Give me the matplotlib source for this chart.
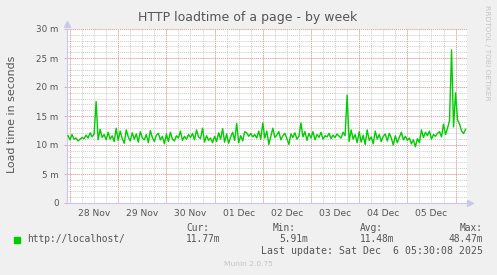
import numpy as np
import matplotlib.pyplot as plt
from matplotlib.ticker import FixedLocator

# hours relative to 28 Nov 00:00, hourly samples (load time in ms)
start_hour = -1
load_ms = [
    # 27 Nov 23:00 / 28 Nov
    11.6, 10.9, 11.8, 11.0, 11.2, 10.7, 11.0, 11.3, 11.1, 11.7, 11.2, 12.1, 11.4,
    11.9, 17.5, 10.9, 12.7, 11.3, 11.8, 10.9, 12.2, 11.0, 11.6, 10.6, 12.9,
    # 29 Nov
    10.8, 12.4, 11.1, 10.3, 12.6, 11.4, 10.7, 12.1, 11.0, 11.9, 10.5, 12.3,
    11.2, 10.9, 11.8, 10.4, 12.5, 11.3, 10.6, 11.7, 12.0, 10.9, 11.5, 10.2,
    # 30 Nov
    11.9, 10.6, 12.2, 11.0, 10.7, 11.6, 11.2, 12.4, 10.8, 11.5, 11.0, 11.8,
    11.3, 12.0, 10.9, 12.6, 11.4, 11.1, 12.9, 10.5, 11.6, 10.8, 11.2, 10.4,
    # 01 Dec
    11.5, 10.6, 12.1, 11.0, 12.8, 10.5, 11.9, 10.3, 11.4, 12.2, 10.8, 13.7,
    10.4, 11.6, 10.7, 12.3, 12.1, 11.5, 12.0, 11.4, 11.8, 11.2, 12.4, 11.0,
    # 02 Dec
    13.8, 11.2, 12.4, 10.1, 11.5, 12.9, 11.3, 11.7, 12.3, 10.9, 11.6, 12.0,
    11.1, 10.1, 11.9, 11.3, 12.1, 11.0, 11.5, 13.8, 11.4, 12.3, 10.8, 12.0,
    # 03 Dec
    11.2, 12.3, 10.9, 11.8, 11.3, 12.2, 11.0, 11.6, 11.4, 12.0, 11.1, 11.7,
    11.3, 11.9, 11.5, 11.2, 12.2, 11.6, 18.6, 10.6, 12.6, 11.0, 11.8, 10.4,
    # 04 Dec
    12.3, 10.5, 11.7, 10.1, 12.6, 10.8, 11.4, 10.2, 12.4, 11.0, 11.8, 10.6,
    11.5, 11.9, 10.7, 12.0, 11.2, 10.0, 11.6, 10.4, 11.3, 12.2, 10.9, 11.5,
    # 05 Dec / 06 Dec
    10.8, 11.2, 10.2, 10.9, 9.7, 11.1, 10.4, 12.6, 11.3, 12.2, 11.6, 12.4,
    11.0, 11.8, 11.5, 12.0, 12.3, 11.4, 13.6, 11.8, 12.9, 14.2, 26.4, 13.1,
    19.0, 14.3, 13.6, 12.4, 12.0, 12.7,
]
day_labels = ["28 Nov", "29 Nov", "30 Nov", "01 Dec", "02 Dec", "03 Dec", "04 Dec", "05 Dec"]
y_ticks = [0, 5, 10, 15, 20, 25, 30]
legend_name = "http://localhost/"
stats = [("Cur:", "11.77m"), ("Min:", "5.91m"), ("Avg:", "11.48m"), ("Max:", "48.47m")]
last_update = "Last update: Sat Dec  6 05:30:08 2025"

hours = start_hour + np.arange(len(load_ms))

W, H = 497, 275
BG = "#f0f0f0"
TXT = "#555555"
fig = plt.figure(figsize=(W / 100, H / 100), dpi=100, facecolor=BG)


def fx(x):
    return x / W


def fy(y):
    return 1 - y / H


ax = fig.add_axes([fx(67), fy(203), fx(467) - fx(67), fy(29) - fy(203)])
ax.set_facecolor("white")
ax.set_xlim(-1.5, 197.7)
ax.set_ylim(0, 30)

# grid: minor gray every 6 h / 1 m, major red at midnight / every 5 m
minor_x = np.arange(0, 198, 6)
major_x = np.arange(0, 198, 24)
for x in minor_x:
    ax.axvline(x, color="#cccccc", lw=0.7, ls=(0, (1, 1)), zorder=1)
for y in range(1, 31):
    ax.axhline(y, color="#cccccc", lw=0.7, ls=(0, (1, 1)), zorder=1)
for x in major_x:
    ax.axvline(x, color="#e8a0a0", lw=0.7, ls=(0, (1, 1)), zorder=2)
for y in y_ticks[1:]:
    ax.axhline(y, color="#e8a0a0", lw=0.7, ls=(0, (1, 1)), zorder=2)

ax.plot(hours, load_ms, color="#00cc00", lw=1.0, zorder=3)

ax.xaxis.set_major_locator(FixedLocator(np.arange(12, 198, 24)))
ax.set_xticklabels(day_labels)
ax.yaxis.set_major_locator(FixedLocator(y_ticks))
ax.set_yticklabels([f"{v} m" if v else "0" for v in y_ticks])
ax.tick_params(length=2, width=0.6, color="#e8a0a0", labelsize=6.3,
               labelcolor=TXT, pad=4)
ax.tick_params(axis="x", length=0, labelsize=6.6, pad=4)

for s in ["top", "right"]:
    ax.spines[s].set_visible(False)
for s in ["left", "bottom"]:
    ax.spines[s].set_color("#c8c8ec")
    ax.spines[s].set_linewidth(0.8)

# axis arrows
ax.plot([-1.5], [30.9], marker="^", color="#c8c8ec", ms=4, clip_on=False, zorder=4)
ax.plot([199.3], [0], marker=">", color="#c8c8ec", ms=4, clip_on=False, zorder=4)

fig.text(fx(248), fy(18), "HTTP loadtime of a page - by week", ha="center",
         va="center", fontsize=9.0, color=TXT)
fig.text(fx(12), fy(114), "Load time in seconds", rotation=90, ha="center",
         va="center", fontsize=7.9, color=TXT)
fig.text(fx(487), fy(53), "RRDTOOL / TOBI OETIKER", rotation=270, ha="center",
         va="center", fontsize=5.4, color="#c4c4c4")

# legend
mono = "DejaVu Sans Mono"
fig.patches.append(plt.Rectangle((fx(14), fy(243)), fx(6), 6 / H,
                                 transform=fig.transFigure, color="#00cc00"))
fig.text(fx(27), fy(239.5), legend_name, family=mono, fontsize=6.9,
         color=TXT, va="center")
head_x = [186, 273, 360, 483]
val_x = [186, 279, 360, 483]
for i, (head, val) in enumerate(stats):
    ha = "right" if i == 3 else "left"
    fig.text(fx(head_x[i]), fy(228), head, family=mono, fontsize=6.9,
             color=TXT, va="center", ha=ha)
    fig.text(fx(val_x[i]), fy(239.5), val, family=mono, fontsize=6.9,
             color=TXT, va="center", ha=ha)
fig.text(fx(483), fy(250.5), last_update, family=mono, fontsize=7.1,
         color=TXT, va="center", ha="right")
fig.text(fx(248), fy(264), "Munin 2.0.75", fontsize=5.4, color="#c4c4c4",
         ha="center", va="center")

fig.savefig("out.png", dpi=100, facecolor=BG)
